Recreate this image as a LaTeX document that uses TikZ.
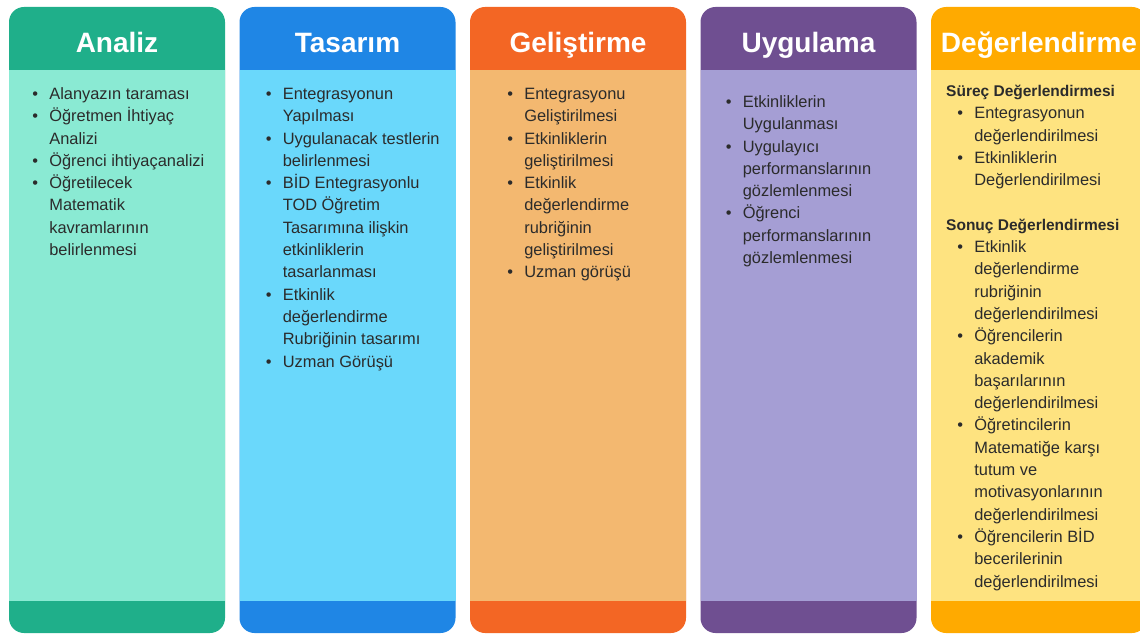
\documentclass[tikz,border=0pt]{standalone}
\usepackage{fontspec}
\setmainfont{Liberation Sans}
\usetikzlibrary{positioning}

\definecolor{analizdark}{HTML}{1FAF8A}
\definecolor{analizlight}{HTML}{8AEAD3}
\definecolor{tasarimdark}{HTML}{1F86E5}
\definecolor{tasarimlight}{HTML}{6AD8FB}
\definecolor{gelisdark}{HTML}{F36624}
\definecolor{gelislight}{HTML}{F3B870}
\definecolor{uygdark}{HTML}{6F4F91}
\definecolor{uyglight}{HTML}{A59ED4}
\definecolor{degdark}{HTML}{FFAA00}
\definecolor{deglight}{HTML}{FEE380}
\definecolor{textgrey}{HTML}{2B2B2B}

\newcommand{\bul}{\textbullet}
\newcommand{\itemlist}[1]{\begin{tabular}[t]{@{}l@{\hspace{11.2pt}}l@{}}#1\end{tabular}}
\newcommand{\subhead}[1]{\multicolumn{2}{@{}l@{}}{\hspace*{-11.2pt}{\fontsize{15.5}{22.3}\selectfont\bfseries #1}}}

\begin{document}
\begin{tikzpicture}[
    x=1pt, y=1pt,
    node distance=14.5pt,
    column/.style = {rectangle, rounded corners=15pt, minimum width=216pt, minimum height=626pt, inner sep=0pt, outer sep=0pt},
    panel/.style = {rectangle, minimum width=216pt, minimum height=531pt, inner sep=0pt, outer sep=0pt},
    title/.style = {anchor=base, inner sep=0pt, text=white, font=\fontsize{28}{34}\selectfont\bfseries},
    itembox/.style = {anchor=base west, inner sep=0pt, text=textgrey, font=\fontsize{16.4}{22.3}\selectfont}]

    \clip (0,0) rectangle (1140,633);
    \useasboundingbox (0,0) rectangle (1140,633);

    % columns
    \node[column, fill=analizdark] (A) at (117,313) {};
    \node[column, fill=tasarimdark, right=of A] (B) {};
    \node[column, fill=gelisdark, right=of B] (C) {};
    \node[column, fill=uygdark, right=of C] (D) {};
    \node[column, fill=degdark, right=of D] (E) {};

    \node[panel, fill=analizlight] (A-body) at ([yshift=-15.5pt]A.center) {};
    \node[panel, fill=tasarimlight] (B-body) at ([yshift=-15.5pt]B.center) {};
    \node[panel, fill=gelislight] (C-body) at ([yshift=-15.5pt]C.center) {};
    \node[panel, fill=uyglight] (D-body) at ([yshift=-15.5pt]D.center) {};
    \node[panel, fill=deglight] (E-body) at ([yshift=-15.5pt]E.center) {};

    % titles
    \node[title] (A-title) at ([yshift=-46pt]A.north) {Analiz};
    \node[title] (B-title) at ([yshift=-46pt]B.north) {Tasarım};
    \node[title] (C-title) at ([yshift=-46pt]C.north) {Geliştirme};
    \node[title] (D-title) at ([yshift=-46pt]D.north) {Uygulama};
    \node[title] (E-title) at ([yshift=-46pt]E.north) {Değerlendirme};

    % lists
    \node[itembox] (A-list) at ([xshift=23.2pt, yshift=-92.5pt]A.north west) {\itemlist{
        \bul & Alanyazın taraması\\
        \bul & Öğretmen İhtiyaç\\
             & Analizi\\
        \bul & Öğrenci ihtiyaçanalizi\\
        \bul & Öğretilecek\\
             & Matematik\\
             & kavramlarının\\
             & belirlenmesi}};
    \node[itembox] (B-list) at ([xshift=26.2pt, yshift=-92.5pt]B.north west) {\itemlist{
        \bul & Entegrasyonun\\
             & Yapılması\\
        \bul & Uygulanacak testlerin\\
             & belirlenmesi\\
        \bul & BİD Entegrasyonlu\\
             & TOD Öğretim\\
             & Tasarımına ilişkin\\
             & etkinliklerin\\
             & tasarlanması\\
        \bul & Etkinlik\\
             & değerlendirme\\
             & Rubriğinin tasarımı\\
        \bul & Uzman Görüşü}};
    \node[itembox] (C-list) at ([xshift=37.2pt, yshift=-92.5pt]C.north west) {\itemlist{
        \bul & Entegrasyonu\\
             & Geliştirilmesi\\
        \bul & Etkinliklerin\\
             & geliştirilmesi\\
        \bul & Etkinlik\\
             & değerlendirme\\
             & rubriğinin\\
             & geliştirilmesi\\
        \bul & Uzman görüşü}};
    \node[itembox] (D-list) at ([xshift=25.2pt, yshift=-100.5pt]D.north west) {\itemlist{
        \bul & Etkinliklerin\\
             & Uygulanması\\
        \bul & Uygulayıcı\\
             & performanslarının\\
             & gözlemlenmesi\\
        \bul & Öğrenci\\
             & performanslarının\\
             & gözlemlenmesi}};
    \node[itembox] (E-list) at ([xshift=26.2pt, yshift=-89.5pt]E.north west) {\itemlist{
        \subhead{Süreç Değerlendirmesi}\\
        \bul & Entegrasyonun\\
             & değerlendirilmesi\\
        \bul & Etkinliklerin\\
             & Değerlendirilmesi\\
             & \\
        \subhead{Sonuç Değerlendirmesi}\\
        \bul & Etkinlik\\
             & değerlendirme\\
             & rubriğinin\\
             & değerlendirilmesi\\
        \bul & Öğrencilerin\\
             & akademik\\
             & başarılarının\\
             & değerlendirilmesi\\
        \bul & Öğretincilerin\\
             & Matematiğe karşı\\
             & tutum ve\\
             & motivasyonlarının\\
             & değerlendirilmesi\\
        \bul & Öğrencilerin BİD\\
             & becerilerinin\\
             & değerlendirilmesi}};
\end{tikzpicture}
\end{document}
